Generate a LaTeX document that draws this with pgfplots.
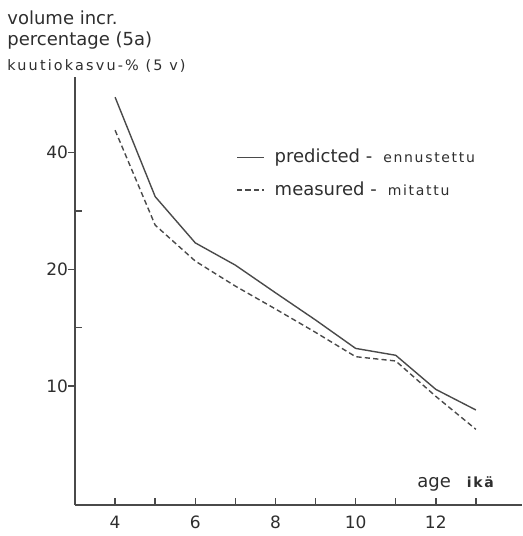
\documentclass[border=0pt]{standalone}
\usepackage{fontspec}
\setmainfont{DejaVu Sans}
\newfontfamily\spaced[LetterSpace=12]{DejaVu Sans}
\newfontfamily\widespaced[LetterSpace=15]{DejaVu Sans}
\usepackage{pgfplots}
\pgfplotsset{compat=1.18}
\definecolor{ink}{HTML}{2E2E2E}
\definecolor{curve}{HTML}{4A4A4A}
\newcommand{\sm}[1]{{\spaced\fontsize{7}{8}\selectfont #1}}

\begin{document}
\begin{tikzpicture}
\begin{axis}[
    name=ax,
    scale only axis,
    width=223.5pt, height=214pt,
    xmin=3, xmax=14.15,
    ymode=log,
    ymin=4.93, ymax=62.7,
    axis x line*=bottom,
    axis y line*=left,
    axis line style={curve, line width=0.75pt},
    every tick/.style={curve, line width=0.7pt},
    major tick length=3.5pt,
    minor tick length=-3.3pt,
    xtick={4,...,13},
    xticklabels={4,,6,,8,,10,,12,},
    xtick align=inside,
    ytick={10,20,40},
    yticklabels={10,20,40},
    minor ytick={14.142,28.284},
    ytick align=outside,
    /pgf/number format/assume math mode=true,
    tick label style={font=\fontsize{8.5}{10}\selectfont, text=ink},
    xticklabel style={yshift=-2pt},
    yticklabel style={xshift=3.5pt},
    title={volume incr.\\percentage (5a)\\[2pt]{\widespaced\fontsize{7.2}{8}\selectfont kuutiokasvu-\% (5 v)}},
    title style={at={(rel axis cs:0,1)}, anchor=north west, xshift=-34pt, yshift=27.5pt,
        align=left, inner sep=0pt, font=\fontsize{9}{10.5}\selectfont, text=ink},
    xlabel={age\hspace{8pt}{\spaced\bfseries\fontsize{7}{8}\selectfont ikä}},
    xlabel style={at={(rel axis cs:0.765,0.04)}, anchor=base west, inner sep=0pt,
        font=\fontsize{9}{10.5}\selectfont, text=ink},
    legend style={at={(rel axis cs:0.36,0.842)}, anchor=north west, draw=none, fill=none,
        inner sep=0pt, row sep=4pt, font=\fontsize{9}{10.5}\selectfont, text=ink},
    legend cell align=left,
    legend image code/.code={\draw[#1] (0pt,0pt) -- (13.5pt,0pt); \path (16.5pt,0pt);},
]
\addplot[curve, line width=0.7pt] coordinates {
    (4,55.6) (5,30.8) (6,23.4) (7,20.5) (8,17.4)
    (9,14.8) (10,12.5) (11,12.0) (12,9.8) (13,8.67)
};
\addlegendentry{predicted -\hspace{5.5pt}\sm{ennustettu}}
\addplot[curve, line width=0.7pt, dash pattern=on 2.6pt off 1.6pt] coordinates {
    (4,45.7) (5,26.0) (6,21.0) (7,18.1) (8,15.8)
    (9,13.75) (10,11.9) (11,11.6) (12,9.4) (13,7.73)
};
\addlegendentry{measured -\hspace{5.5pt}\sm{mitattu}}
\end{axis}
\pgfresetboundingbox
\path ([shift={(-37.5pt,-15.5pt)}]ax.south west) rectangle ([shift={(0pt,252.5pt)}]ax.south east);
\end{tikzpicture}
\end{document}
